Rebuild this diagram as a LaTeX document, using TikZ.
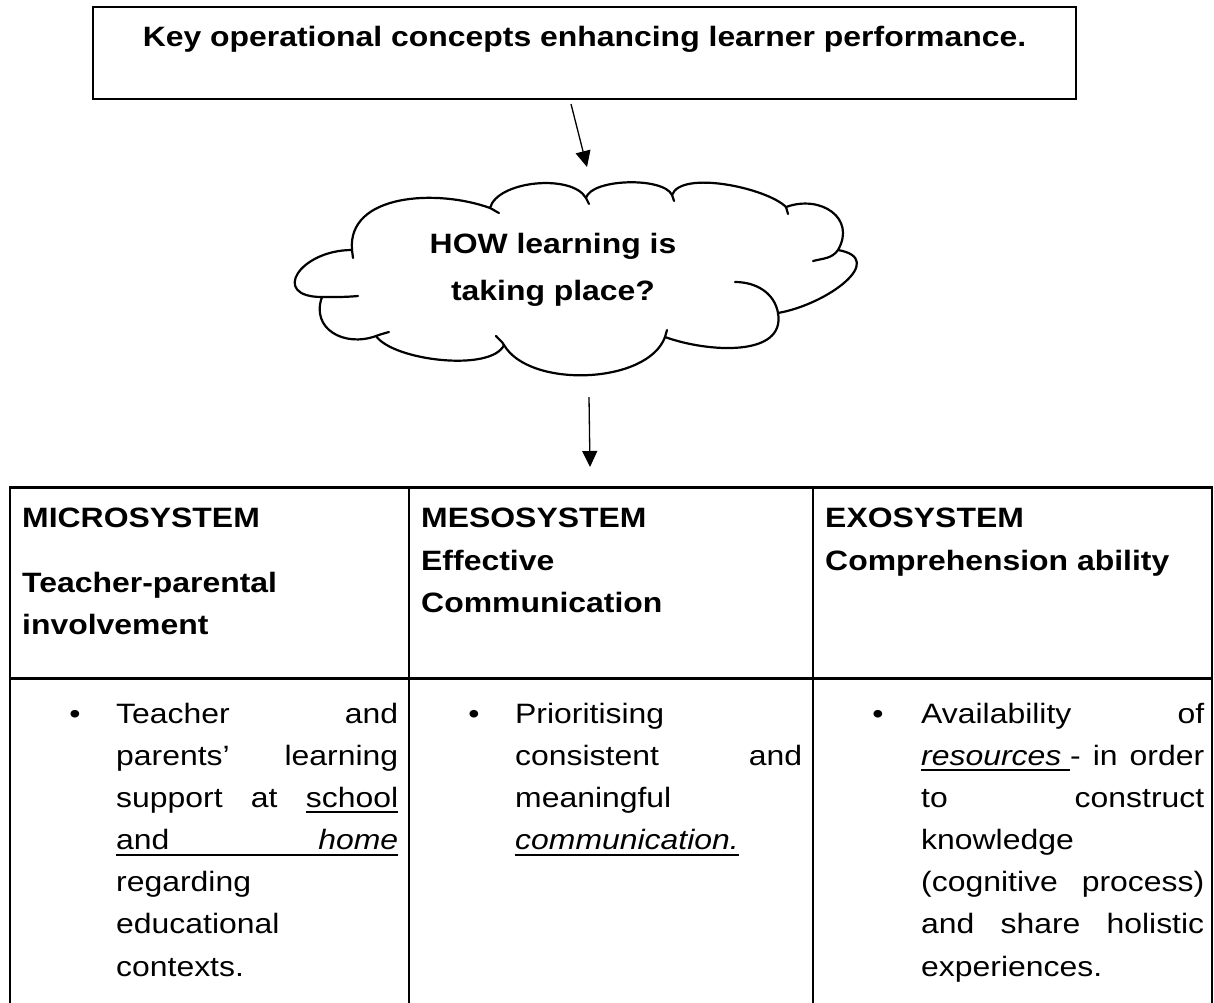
\documentclass[tikz,border=0pt]{standalone}
\usepackage{fontspec}
\setmainfont{Liberation Sans}[FakeStretch=1.14]
\usetikzlibrary{arrows.meta}
\newcommand\myul[1]{\setbox0\hbox{#1}\rlap{\rule[-6pt]{\wd0}{2pt}}\box0}
\tikzset{
  txt/.style={anchor=base west, inner sep=0pt, font=\fontsize{28}{42}\selectfont},
  hd/.style={txt, font=\fontsize{28}{42}\selectfont\bfseries},
  ctxt/.style={anchor=base, inner sep=0pt, font=\fontsize{28}{42}\selectfont\bfseries},
  bul/.style={anchor=base, inner sep=0pt, font=\fontsize{28}{42}\selectfont},
  arr/.style={line width=1.3pt, -{Triangle[length=16pt,width=15pt]}},
  cloudline/.style={line width=2.2pt, line join=round, line cap=round},
  tline/.style={line width=2pt},
  hline/.style={line width=3pt}
}
\begin{document}
\begin{tikzpicture}[x=1pt,y=1pt]
\useasboundingbox[fill=white] (0,0) rectangle (1214,-1002);
% title box
\node[draw, line width=2.5pt, minimum width=983pt, minimum height=92pt, inner sep=0pt] (title) at (584.5,-53) {};
\node[ctxt] (titletext) at (584.5,-46) {Key operational concepts enhancing learner performance.};
% arrow 1
\coordinate (a1s) at (571,-104);
\coordinate (a1e) at (587,-167);
\draw[arr] (a1s) -- (a1e);
% cloud
\coordinate (cloud) at (573,-280);
\draw[cloudline] (352,-250) to[out=95,in=160] (490,-208)
  to[out=75,in=120,looseness=0.75] (586,-198)
  to[out=75,in=115,looseness=0.6] (672,-195)
  to[out=70,in=135,looseness=0.6] (786,-207)
  to[out=20,in=60,looseness=1.4] (838,-250)
  to[out=-10,in=10,looseness=1.5] (778,-313)
  to[out=-80,in=-20] (665,-337)
  to[out=-110,in=-60,looseness=0.8] (504,-345)
  to[out=-115,in=-55,looseness=0.6] (376,-336)
  to[out=200,in=250,looseness=1.3] (322,-297)
  to[out=180,in=180,looseness=2.4] cycle;
% inner tails
\draw[cloudline] (352,-250) -- (353,-258);
\draw[cloudline] (490,-208) to[out=-25,in=155] (499,-213);
\draw[cloudline] (586,-198) -- (589,-204);
\draw[cloudline] (672,-195) -- (674,-201);
\draw[cloudline] (786,-207) -- (788,-214);
\draw[cloudline] (838,-250) to[out=235,in=15] (813,-261);
\draw[cloudline] (735,-282) to[out=0,in=100] (778,-313);
\draw[cloudline] (665,-337) -- (667,-330);
\draw[cloudline] (504,-345) to[out=120,in=-50] (496,-336);
\draw[cloudline] (376,-336) to[out=20,in=195] (389,-332);
\draw[cloudline] (322,-297) to[out=0,in=185] (358,-296);
\node[ctxt] (cloudl1) at (553,-253) {HOW learning is};
\node[ctxt] (cloudl2) at (553,-300) {taking place?};
% arrow 2
\coordinate (a2s) at (589,-397);
\coordinate (a2e) at (590,-467);
\draw[arr] (a2s) -- (a2e);
% table
\coordinate (tl) at (10,-487);
\coordinate (tr) at (1212,-487);
\coordinate (ml) at (10,-678);
\coordinate (mr) at (1212,-678);
\coordinate (bl) at (10,-1003);
\coordinate (br) at (1212,-1003);
\coordinate (c1t) at (409,-487);
\coordinate (c1b) at (409,-1003);
\coordinate (c2t) at (813,-487);
\coordinate (c2b) at (813,-1003);
\draw[tline] (tl) -- (bl);
\draw[tline] (tr) -- (br);
\draw[tline] (c1t) -- (c1b);
\draw[tline] (c2t) -- (c2b);
\draw[hline] ([xshift=-1pt]tl) -- ([xshift=1pt]tr);
\draw[hline] ([xshift=-1pt]ml) -- ([xshift=1pt]mr);
% headers
\node[hd] (h1a) at (22,-527) {MICROSYSTEM};
\node[hd] (h1b) at (22,-592) {Teacher-parental};
\node[hd] (h1c) at (22,-634) {involvement};
\node[hd] (h2a) at (421,-527) {MESOSYSTEM};
\node[hd] (h2b) at (421,-570) {Effective};
\node[hd] (h2c) at (421,-612) {Communication};
\node[hd] (h3a) at (825,-527) {EXOSYSTEM};
\node[hd] (h3b) at (825,-570) {Comprehension ability};
% bullets
\node[bul] (bu1) at (75,-723) {•};
\node[bul] (bu2) at (474,-723) {•};
\node[bul] (bu3) at (878,-723) {•};
% body column 1
\foreach \t [count=\i from 0] in {
  {\makebox[282pt][s]{Teacher and}},
  {\makebox[282pt][s]{parents’ learning}},
  {\makebox[282pt][s]{support at \myul{school}}},
  {\myul{\makebox[282pt][s]{and \textit{home}}}},
  {regarding},
  {educational},
  {contexts.}}
  \node[txt] (ca\i) at (116,{-723-42.17*\i}) {\t};
% body column 2
\foreach \t [count=\i from 0] in {
  {Prioritising},
  {\makebox[287pt][s]{consistent and}},
  {meaningful},
  {\myul{\textit{communication.}}}}
  \node[txt] (cb\i) at (515,{-723-42.17*\i}) {\t};
% body column 3
\foreach \t [count=\i from 0] in {
  {\makebox[283pt][s]{Availability of}},
  {\makebox[283pt][s]{\myul{\textit{resources}\ }- in order}},
  {\makebox[283pt][s]{to construct}},
  {knowledge},
  {\makebox[283pt][s]{(cognitive process)}},
  {\makebox[283pt][s]{and share holistic}},
  {experiences.}}
  \node[txt] (cc\i) at (921,{-723-42.17*\i}) {\t};
\end{tikzpicture}
\end{document}
